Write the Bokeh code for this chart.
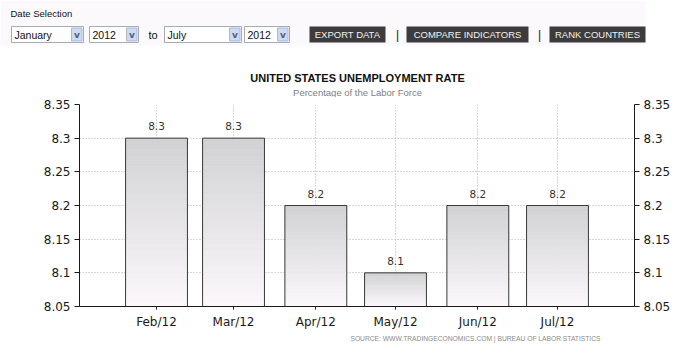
import pandas as pd
from bokeh.plotting import figure
from bokeh.layouts import column
from bokeh.models import Range1d, FixedTicker, LinearAxis, NumeralTickFormatter
from bokeh.core.properties import value
from bokeh.embed import file_html
from bokeh.resources import INLINE

# ---------------- data ----------------
months = ["2012-02-01", "2012-03-01", "2012-04-01", "2012-05-01", "2012-06-01", "2012-07-01"]
month_labels = ["Feb/12", "Mar/12", "Apr/12", "May/12", "Jun/12", "Jul/12"]
rates = [8.3, 8.3, 8.2, 8.1, 8.2, 8.2]
y_ticks = [8.05, 8.1, 8.15, 8.2, 8.25, 8.3, 8.35]

title_text = "UNITED STATES UNEMPLOYMENT RATE"
subtitle_text = "Percentage of the Labor Force"
source_text = "SOURCE: WWW.TRADINGECONOMICS.COM | BUREAU OF LABOR STATISTICS"
dropdown_texts = ["January", "2012", "July", "2012"]
button_texts = ["EXPORT DATA", "COMPARE INDICATORS", "RANK COUNTRIES"]

W = 674
TOP_H, CHART_H, BOT_H = 97, 235, 12


def blank(h):
    f = figure(width=W, height=h, output_backend="svg", toolbar_location=None,
               x_range=Range1d(0, W), y_range=Range1d(h, 0),
               x_axis_location=None, y_axis_location=None,
               min_border_left=0, min_border_right=0, min_border_top=0, min_border_bottom=0)
    f.frame_align = False
    f.outline_line_color = None
    f.xgrid.visible = False
    f.ygrid.visible = False
    f.background_fill_color = "white"
    f.border_fill_color = "white"
    return f


def txt(f, x, y, s, size="10.5px", color="#111111", align="left",
        font="Liberation Sans", style="normal"):
    f.text(x=[x], y=[y], text=[s], text_align=align, text_baseline="middle",
           text_font=value(font), text_font_style=style, text_font_size=size,
           text_color=color)


# ---------------- top: date selection + titles ----------------
top = blank(TOP_H)
top.quad(left=[0], right=[645], top=[0], bottom=[45], fill_color="#fcf9fc", line_color=None)
txt(top, 10, 13, "Date Selection", size="9.5px")

dd_pos = [(11, 83), (89, 138), (164, 241), (244, 289)]
for (l, r), s in zip(dd_pos, dropdown_texts):
    top.quad(left=[l], right=[r], top=[26], bottom=[42], fill_color="white", line_color="#a5acb5")
    top.quad(left=[r - 12], right=[r - 1.5], top=[27.5], bottom=[40.5], fill_color="#cfdaf2",
             line_color="#aab8d6")
    txt(top, r - 6.5, 34, "v", size="9px", color="#4d6185", align="center",
        font="DejaVu Sans", style="bold")
    txt(top, l + 3, 34, s)
txt(top, 148, 34, "to", size="11px")

bt_pos = [(309, 385), (406, 528), (549, 645)]
for (l, r), s in zip(bt_pos, button_texts):
    top.quad(left=[l], right=[r], top=[26], bottom=[42], fill_color="#3c3c3c", line_color=None)
    txt(top, (l + r) / 2, 34, s, size="9.5px", color="#f2f2f2", align="center")
txt(top, 397, 34, "|", size="12px", align="center")
txt(top, 539, 34, "|", size="12px", align="center")

txt(top, 357, 77, title_text, size="11px", align="center", style="bold")
txt(top, 357, 92, subtitle_text, size="9.5px", color="#808080", align="center")

# ---------------- chart ----------------
day = pd.to_datetime(months).dayofyear.tolist()
base = y_ticks[0]
BAR_W = 23.3

p = figure(width=W, height=CHART_H, output_backend="svg", toolbar_location=None,
           x_range=Range1d(day[0] - 29, day[-1] + 29),
           y_range=Range1d(y_ticks[0], y_ticks[-1]),
           min_border_left=79, min_border_right=40, min_border_top=7, min_border_bottom=26)
p.frame_align = False
p.outline_line_color = None
p.background_fill_color = "white"
p.border_fill_color = "white"

# gradient bars
N = 30
top_c = (210, 210, 212)
bot_c = (251, 247, 251)
gx, gb, gt, gc = [], [], [], []
for x, v in zip(day, rates):
    for k in range(N):
        fr = k / (N - 1)
        c = tuple(round(bot_c[i] + (top_c[i] - bot_c[i]) * fr) for i in range(3))
        gx.append(x)
        gb.append(base + (v - base) * k / N)
        gt.append(base + (v - base) * (k + 1) / N)
        gc.append("#%02x%02x%02x" % c)
p.vbar(x=gx, width=BAR_W, bottom=gb, top=gt, fill_color=gc, line_color=gc, line_width=0.6)
p.vbar(x=day, width=BAR_W, bottom=base, top=rates, fill_color=None,
       line_color="#3a3a3a", line_width=1)

p.text(x=day, y=rates, text=[f"{v:g}" for v in rates], text_align="center",
       text_baseline="middle", y_offset=-12, text_font=value("DejaVu Sans"),
       text_font_size="10.5px", text_color="#333333")

p.xaxis.ticker = FixedTicker(ticks=day)
p.xaxis.major_label_overrides = dict(zip(day, month_labels))
p.xgrid.ticker = FixedTicker(ticks=day)
p.yaxis.ticker = FixedTicker(ticks=y_ticks)
p.ygrid.ticker = FixedTicker(ticks=y_ticks)
p.yaxis.formatter = NumeralTickFormatter(format="0.0[0]")

right = LinearAxis(ticker=FixedTicker(ticks=y_ticks), formatter=NumeralTickFormatter(format="0.0[0]"))
p.add_layout(right, "right")

for ax in [p.yaxis[0], right]:
    ax.major_tick_in = 0
    ax.major_tick_out = 5
    ax.major_label_standoff = 4
for ax in [p.xaxis[0], p.yaxis[0], right]:
    ax.minor_tick_line_color = None
    ax.axis_line_color = "#1a1a1a"
    ax.major_tick_line_color = "#1a1a1a"
    ax.major_label_text_font = "DejaVu Sans"
    ax.major_label_text_font_size = "12px"
    ax.major_label_text_color = "#1a1a1a"
p.xaxis.major_tick_in = 0
p.xaxis.major_tick_out = 3
p.xaxis.major_label_standoff = 5

for g in [p.xgrid[0], p.ygrid[0]]:
    g.grid_line_color = "#b0b0b0"
    g.grid_line_dash = "1 2"
    g.grid_line_width = 1

# ---------------- bottom: source ----------------
bot = blank(BOT_H)
txt(bot, 600, 6, source_text, size="6.7px", color="#8a8a8a", align="right")

layout = column(top, p, bot, spacing=0)
open("out.html", "w").write(file_html(layout, INLINE))
